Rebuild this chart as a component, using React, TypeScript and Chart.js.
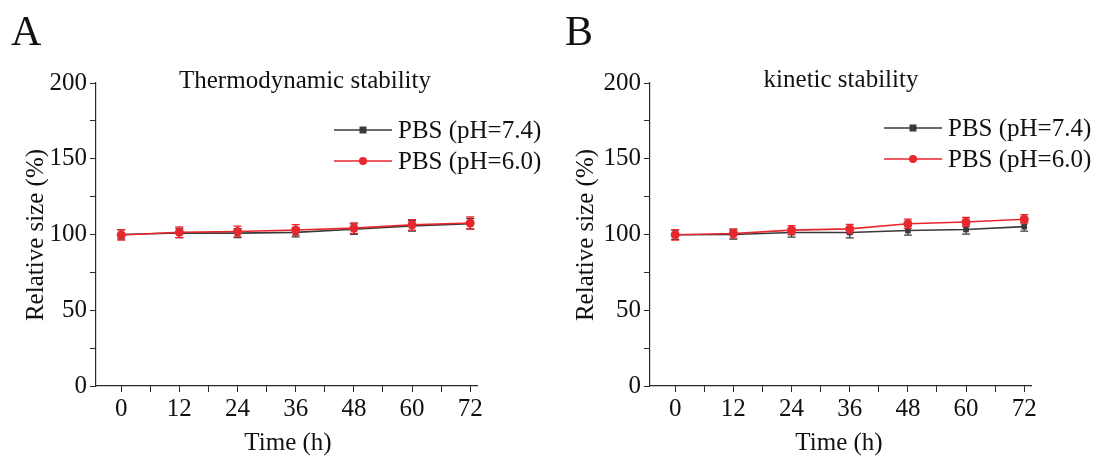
import React, { useEffect, useRef } from "react";
import { Chart, registerables } from "chart.js";

Chart.register(...registerables);

// ---------- data ----------
const timeHours = [0, 12, 24, 36, 48, 60, 72];
const xTickValues = [0, 6, 12, 18, 24, 30, 36, 42, 48, 54, 60, 66, 72];
const xLabeledTicks = [0, 12, 24, 36, 48, 60, 72];
const yTickValues = [0, 25, 50, 75, 100, 125, 150, 175, 200];
const yLabeledTicks = [0, 50, 100, 150, 200];
const seriesNames = ["PBS (pH=7.4)", "PBS (pH=6.0)"];

const thermoPH74 = [100, 101, 100.9, 101.4, 103.5, 105.7, 107.2];
const thermoPH60 = [99.7, 101.5, 102, 103, 104.2, 106.4, 107.6];
const thermoErrPH74 = [3, 3, 3, 3, 3.5, 3.5, 3.5];
const thermoErrPH60 = [3.5, 3.5, 3.5, 3.5, 3.5, 3.5, 4];

const kineticPH74 = [99.8, 100, 101.3, 101.3, 102.6, 103.3, 105.2];
const kineticPH60 = [99.8, 100.7, 102.9, 103.7, 107.1, 108.3, 110.1];
const kineticErrPH74 = [3, 3, 3, 3.5, 3, 3, 3];
const kineticErrPH60 = [3.5, 3, 3, 3, 3, 3, 3];

// ---------- style ----------
const FONT = "'Liberation Serif', 'Times New Roman', Times, serif";
const BLACK = "#3a3a3a";
const RED = "#e8262d";
const AXIS = "#2a2a2a";
const TEXT = "#111111";
const X_MIN = -5.2;
const X_MAX = 73.4;

type PanelCfg = {
  letter: string;
  title: string;
  ph74: number[];
  ph60: number[];
  err74: number[];
  err60: number[];
  offset: number;
  axisLeft: number;
  axisRight: number;
  titleX: number;
  titleY: number;
  legendX: number;
  legendY1: number;
  legendY2: number;
  xTitleX: number;
  xTitleY: number;
  yTitleX: number;
  yTitleY: number;
};

const panels: PanelCfg[] = [
  {
    letter: "A",
    title: "Thermodynamic stability",
    ph74: thermoPH74,
    ph60: thermoPH60,
    err74: thermoErrPH74,
    err60: thermoErrPH60,
    offset: 0,
    axisLeft: 96,
    axisRight: 477,
    titleX: 305,
    titleY: 88,
    legendX: 334,
    legendY1: 130,
    legendY2: 161,
    xTitleX: 288,
    xTitleY: 450,
    yTitleX: 36,
    yTitleY: 235,
  },
  {
    letter: "B",
    title: "kinetic stability",
    ph74: kineticPH74,
    ph60: kineticPH60,
    err74: kineticErrPH74,
    err60: kineticErrPH60,
    offset: 550,
    axisLeft: 100,
    axisRight: 481,
    titleX: 291,
    titleY: 87,
    legendX: 334,
    legendY1: 128,
    legendY2: 159,
    xTitleX: 289,
    xTitleY: 450,
    yTitleX: 36,
    yTitleY: 235,
  },
];

function makeDecor(p: PanelCfg) {
  return {
    id: "decor" + p.letter,
    beforeDatasetDraw(chart: any, args: any) {
      const ds: any = chart.data.datasets[args.index];
      const errs: number[] = ds.errors;
      const meta = args.meta;
      const ys = chart.scales.y;
      const ctx = chart.ctx;
      ctx.save();
      ctx.strokeStyle = ds.borderColor;
      ctx.lineWidth = 1.2;
      meta.data.forEach((pt: any, i: number) => {
        const v = ds.data[i].y;
        const yt = ys.getPixelForValue(v + errs[i]);
        const yb = ys.getPixelForValue(v - errs[i]);
        const x = pt.x;
        ctx.beginPath();
        ctx.moveTo(x, yt);
        ctx.lineTo(x, yb);
        ctx.moveTo(x - 4, yt);
        ctx.lineTo(x + 4, yt);
        ctx.moveTo(x - 4, yb);
        ctx.lineTo(x + 4, yb);
        ctx.stroke();
      });
      ctx.restore();
    },
    afterDraw(chart: any) {
      const ctx = chart.ctx;
      ctx.save();
      ctx.fillStyle = TEXT;
      // panel letter
      ctx.font = `42px ${FONT}`;
      ctx.textAlign = "left";
      ctx.textBaseline = "alphabetic";
      ctx.fillText(p.letter, p.letter === "A" ? 11 : 15, 45);
      // title
      ctx.font = `25px ${FONT}`;
      ctx.textAlign = "center";
      ctx.fillText(p.title, p.titleX, p.titleY);
      // x title
      ctx.fillText("Time (h)", p.xTitleX, p.xTitleY);
      // y title
      ctx.save();
      ctx.translate(p.yTitleX, p.yTitleY);
      ctx.rotate(-Math.PI / 2);
      ctx.textBaseline = "middle";
      ctx.fillText("Relative size (%)", 0, 0);
      ctx.restore();
      // legend
      const rows = [
        { name: seriesNames[0], color: BLACK, y: p.legendY1, shape: "rect" },
        { name: seriesNames[1], color: RED, y: p.legendY2, shape: "circle" },
      ];
      rows.forEach((r) => {
        ctx.strokeStyle = r.color;
        ctx.lineWidth = 1.5;
        ctx.beginPath();
        ctx.moveTo(p.legendX, r.y);
        ctx.lineTo(p.legendX + 58, r.y);
        ctx.stroke();
        ctx.fillStyle = r.color;
        const cx = p.legendX + 29;
        if (r.shape === "rect") {
          ctx.fillRect(cx - 3.5, r.y - 3.5, 7, 7);
        } else {
          ctx.beginPath();
          ctx.arc(cx, r.y, 4, 0, Math.PI * 2);
          ctx.fill();
        }
        ctx.fillStyle = TEXT;
        ctx.textAlign = "left";
        ctx.textBaseline = "middle";
        ctx.font = `25px ${FONT}`;
        ctx.fillText(r.name, p.legendX + 64, r.y + 1);
      });
      ctx.restore();
    },
  };
}

function Panel({ p }: { p: PanelCfg }) {
  const ref = useRef<HTMLCanvasElement>(null);
  useEffect(() => {
    const canvas = ref.current as HTMLCanvasElement;
    const tickFont = { family: FONT, size: 25 };
    const chart = new Chart(canvas, {
      type: "line",
      data: {
        datasets: [
          {
            label: seriesNames[0],
            data: timeHours.map((t, i) => ({ x: t, y: p.ph74[i] })),
            borderColor: BLACK,
            backgroundColor: BLACK,
            pointStyle: "rect",
            pointRadius: 4,
            pointBorderWidth: 0,
            borderWidth: 1.6,
            order: 1,
            errors: p.err74,
          } as any,
          {
            label: seriesNames[1],
            data: timeHours.map((t, i) => ({ x: t, y: p.ph60[i] })),
            borderColor: RED,
            backgroundColor: RED,
            pointStyle: "circle",
            pointRadius: 4.5,
            pointBorderWidth: 0,
            borderWidth: 1.6,
            order: 0,
            errors: p.err60,
          } as any,
        ],
      },
      options: {
        responsive: false,
        animation: false,
        devicePixelRatio: 1,
        layout: { padding: { left: 0, right: 550 - p.axisRight, top: 83, bottom: 0 } },
        plugins: {
          legend: { display: false },
          tooltip: { enabled: false },
          title: { display: false },
        },
        scales: {
          x: {
            type: "linear",
            min: X_MIN,
            max: X_MAX,
            afterFit: (s: any) => {
              s.height = 457 - 386;
            },
            afterBuildTicks: (s: any) => {
              s.ticks = xTickValues.map((v) => ({ value: v }));
            },
            ticks: {
              autoSkip: false,
              maxRotation: 0,
              padding: 2,
              color: TEXT,
              font: tickFont,
              callback: (v: any) => (xLabeledTicks.includes(Number(v)) ? String(v) : ""),
            },
            grid: { drawOnChartArea: false, tickLength: 6, color: AXIS, lineWidth: 1 },
            border: { display: true, color: AXIS, width: 1.2 },
          },
          y: {
            type: "linear",
            min: 0,
            max: 200,
            afterFit: (s: any) => {
              s.width = p.axisLeft;
            },
            afterBuildTicks: (s: any) => {
              s.ticks = yTickValues.map((v) => ({ value: v }));
            },
            ticks: {
              autoSkip: false,
              padding: 3,
              color: TEXT,
              font: tickFont,
              callback: (v: any) => (yLabeledTicks.includes(Number(v)) ? String(v) : ""),
            },
            grid: { drawOnChartArea: false, tickLength: 6, color: AXIS, lineWidth: 1 },
            border: { display: true, color: AXIS, width: 1.2 },
          },
        },
      } as any,
      plugins: [makeDecor(p)],
    });
    return () => chart.destroy();
  }, [p]);
  return (
    <canvas
      ref={ref}
      width={550}
      height={457}
      style={{ position: "absolute", left: p.offset, top: 0, width: 550, height: 457 }}
    />
  );
}

export default function App() {
  return (
    <div
      style={{
        position: "fixed",
        left: 0,
        top: 0,
        width: 1100,
        height: 457,
        background: "#ffffff",
        overflow: "hidden",
      }}
    >
      {panels.map((p) => (
        <Panel key={p.letter} p={p} />
      ))}
    </div>
  );
}
